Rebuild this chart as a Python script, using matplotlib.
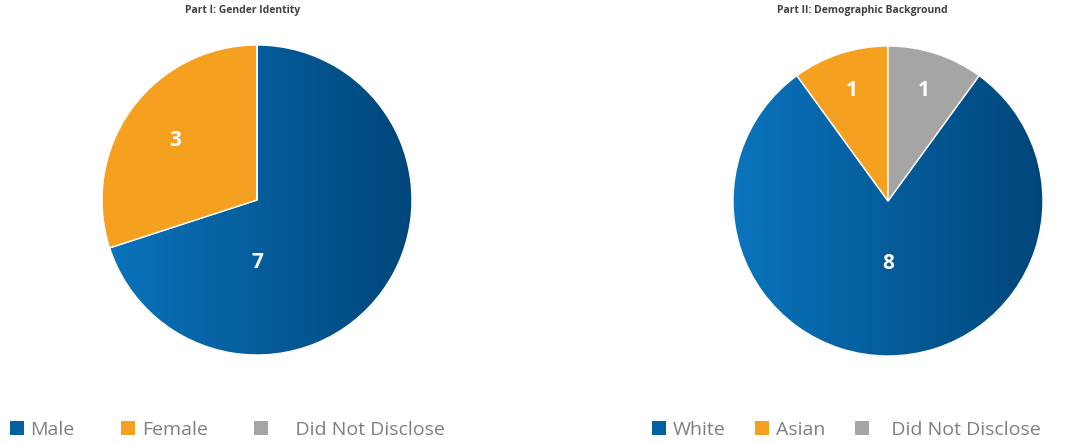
import numpy as np
import matplotlib
matplotlib.use('Agg')
import matplotlib.pyplot as plt
from matplotlib.colors import LinearSegmentedColormap
from matplotlib.patches import Patch

# data
gender_labels = ['Male', 'Female', 'Did Not Disclose']
gender_counts = [7, 3, 0]
race_labels = ['White', 'Asian', 'Did Not Disclose']
race_counts = [8, 1, 1]

blue = '#0060a0'
orange = '#f5a01f'
gray = '#a5a5a5'
colors = [blue, orange, gray]
blue_grad = LinearSegmentedColormap.from_list('bg', ['#0a74bd', '#00467a'])

plt.rcParams['font.family'] = ['Open Sans', 'DejaVu Sans']

fig = plt.figure(figsize=(10.68, 4.44), dpi=100)
W, H = 1068, 444


def draw_pie(center, r, counts, startangle, title, title_x):
    cx, cy = center
    ax = fig.add_axes([(cx - r) / W, (H - cy - r) / H, 2 * r / W, 2 * r / H])
    wedges, _ = ax.pie(counts, colors=colors, startangle=startangle, counterclock=False,
                       wedgeprops=dict(edgecolor='white', linewidth=1))
    # gradient fill for the big blue slice
    grad = np.tile(np.linspace(0, 1, 256), (2, 1))
    wedges[0].set_facecolor('none')
    im = ax.imshow(grad, cmap=blue_grad, extent=(-1, 1, -1, 1), aspect='auto', zorder=0.5)
    im.set_clip_path(wedges[0])
    total = sum(counts)
    for w, c in zip(wedges, counts):
        if c == 0:
            continue
        frac = c / total
        if frac > 0.5:
            x, y = 0, -0.4
        else:
            th = np.deg2rad((w.theta1 + w.theta2) / 2)
            d = 0.8 - 0.5 * frac
            x, y = d * np.cos(th), d * np.sin(th)
        ax.text(x, y, str(c), color='white', fontsize=15, fontweight='bold',
                ha='center', va='center', zorder=3)
    ax.set_xlim(-1, 1)
    ax.set_ylim(-1, 1)
    ax.axis('off')
    fig.text(title_x / W, 1 - 11 / H, title, fontsize=7.5, fontweight='bold',
             color='#404040', ha='center', va='center')
    return ax


draw_pie((257, 200), 155, gender_counts, 90, 'Part I: Gender Identity', 243)
draw_pie((888, 201), 155, race_counts, 54, 'Part II: Demographic Background', 862)


def add_legend(labels, x, colsp, pad):
    handles = [Patch(facecolor=c, edgecolor='none') for c in colors]
    labs = labels[:-1] + [pad + labels[-1]]
    fig.legend(handles, labs, loc='center left', bbox_to_anchor=(x / W, 1 - 430 / H),
               ncol=3, frameon=False, fontsize=14, handlelength=0.7, handleheight=0.7,
               handletextpad=0.35, columnspacing=colsp, borderpad=0, borderaxespad=0,
               labelcolor='#7f7f7f')


add_legend(gender_labels, 10, 2.4, '    ')
add_legend(race_labels, 652, 1.55, '   ')

fig.savefig('out.png', dpi=100, facecolor='white')
